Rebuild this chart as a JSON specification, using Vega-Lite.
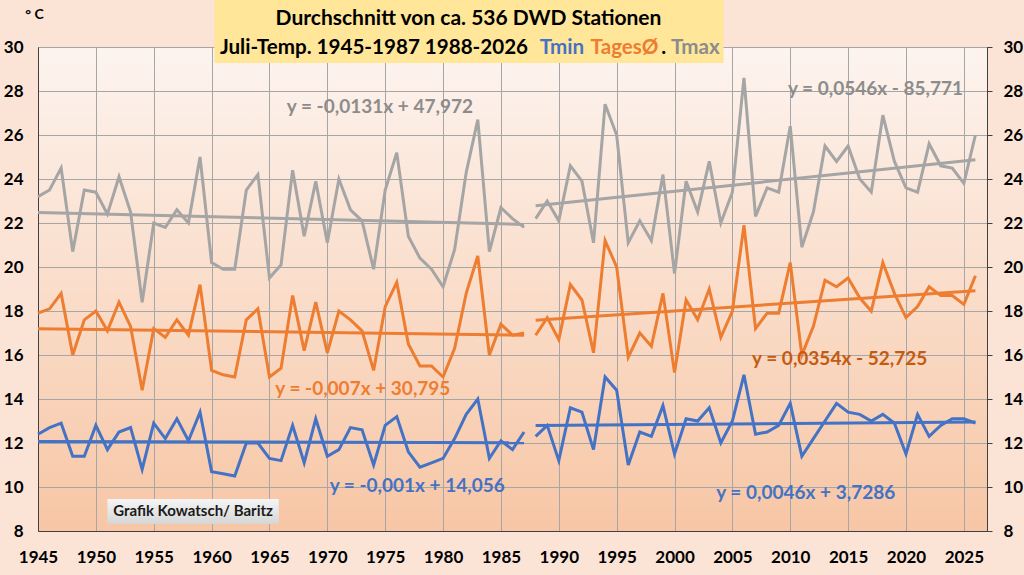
{
  "$schema": "https://vega.github.io/schema/vega-lite/v6.json",
  "width": 949,
  "height": 484,
  "autosize": {"type": "none"},
  "padding": {"left": 38, "top": 47, "right": 37, "bottom": 44},
  "background": "#FBE4D6",
  "config": {
    "font": "Lato",
    "view": {
      "fill": {
        "gradient": "linear", "x1": 0, "y1": 0, "x2": 0, "y2": 1,
        "stops": [{"offset": 0, "color": "#FDF4EF"}, {"offset": 1, "color": "#F7C6A5"}]
      },
      "stroke": "#404040",
      "strokeWidth": 1
    },
    "axis": {
      "labelFont": "Lato",
      "labelFontSize": 17,
      "labelFontWeight": "bold",
      "labelColor": "#000000",
      "domainColor": "#404040",
      "gridColor": "#A6A6A6",
      "gridWidth": 1
    }
  },
  "datasets": {
    "temps": [
      {"year": 1945, "period": "A", "tmin": 12.4, "tages": 17.9, "tmax": 23.2},
      {"year": 1946, "period": "A", "tmin": 12.7, "tages": 18.1, "tmax": 23.5},
      {"year": 1947, "period": "A", "tmin": 12.9, "tages": 18.8, "tmax": 24.5},
      {"year": 1948, "period": "A", "tmin": 11.4, "tages": 16.0, "tmax": 20.7},
      {"year": 1949, "period": "A", "tmin": 11.4, "tages": 17.6, "tmax": 23.5},
      {"year": 1950, "period": "A", "tmin": 12.8, "tages": 18.0, "tmax": 23.4},
      {"year": 1951, "period": "A", "tmin": 11.7, "tages": 17.1, "tmax": 22.4},
      {"year": 1952, "period": "A", "tmin": 12.5, "tages": 18.4, "tmax": 24.1},
      {"year": 1953, "period": "A", "tmin": 12.7, "tages": 17.3, "tmax": 22.5},
      {"year": 1954, "period": "A", "tmin": 10.8, "tages": 14.4, "tmax": 18.4},
      {"year": 1955, "period": "A", "tmin": 12.9, "tages": 17.2, "tmax": 22.0},
      {"year": 1956, "period": "A", "tmin": 12.2, "tages": 16.8, "tmax": 21.8},
      {"year": 1957, "period": "A", "tmin": 13.1, "tages": 17.6, "tmax": 22.6},
      {"year": 1958, "period": "A", "tmin": 12.1, "tages": 16.9, "tmax": 22.0},
      {"year": 1959, "period": "A", "tmin": 13.4, "tages": 19.2, "tmax": 25.0},
      {"year": 1960, "period": "A", "tmin": 10.7, "tages": 15.3, "tmax": 20.2},
      {"year": 1961, "period": "A", "tmin": 10.6, "tages": 15.1, "tmax": 19.9},
      {"year": 1962, "period": "A", "tmin": 10.5, "tages": 15.0, "tmax": 19.9},
      {"year": 1963, "period": "A", "tmin": 12.0, "tages": 17.6, "tmax": 23.5},
      {"year": 1964, "period": "A", "tmin": 12.0, "tages": 18.1, "tmax": 24.2},
      {"year": 1965, "period": "A", "tmin": 11.3, "tages": 15.0, "tmax": 19.5},
      {"year": 1966, "period": "A", "tmin": 11.2, "tages": 15.4, "tmax": 20.1},
      {"year": 1967, "period": "A", "tmin": 12.8, "tages": 18.7, "tmax": 24.4},
      {"year": 1968, "period": "A", "tmin": 11.1, "tages": 16.2, "tmax": 21.4},
      {"year": 1969, "period": "A", "tmin": 13.1, "tages": 18.4, "tmax": 23.9},
      {"year": 1970, "period": "A", "tmin": 11.4, "tages": 16.1, "tmax": 21.1},
      {"year": 1971, "period": "A", "tmin": 11.7, "tages": 18.0, "tmax": 24.0},
      {"year": 1972, "period": "A", "tmin": 12.7, "tages": 17.6, "tmax": 22.6},
      {"year": 1973, "period": "A", "tmin": 12.6, "tages": 17.1, "tmax": 22.1},
      {"year": 1974, "period": "A", "tmin": 11.0, "tages": 15.3, "tmax": 19.9},
      {"year": 1975, "period": "A", "tmin": 12.8, "tages": 18.2, "tmax": 23.5},
      {"year": 1976, "period": "A", "tmin": 13.2, "tages": 19.3, "tmax": 25.2},
      {"year": 1977, "period": "A", "tmin": 11.6, "tages": 16.5, "tmax": 21.4},
      {"year": 1978, "period": "A", "tmin": 10.9, "tages": 15.5, "tmax": 20.4},
      {"year": 1979, "period": "A", "tmin": 11.1, "tages": 15.5, "tmax": 19.9},
      {"year": 1980, "period": "A", "tmin": 11.3, "tages": 15.0, "tmax": 19.1},
      {"year": 1981, "period": "A", "tmin": 12.2, "tages": 16.3, "tmax": 20.8},
      {"year": 1982, "period": "A", "tmin": 13.3, "tages": 18.8, "tmax": 24.3},
      {"year": 1983, "period": "A", "tmin": 14.0, "tages": 20.5, "tmax": 26.7},
      {"year": 1984, "period": "A", "tmin": 11.3, "tages": 16.0, "tmax": 20.7},
      {"year": 1985, "period": "A", "tmin": 12.1, "tages": 17.4, "tmax": 22.7},
      {"year": 1986, "period": "A", "tmin": 11.7, "tages": 16.9, "tmax": 22.2},
      {"year": 1987, "period": "A", "tmin": 12.5, "tages": 17.0, "tmax": 21.8},
      {"year": 1988, "period": "B", "tmin": 12.3, "tages": 16.9, "tmax": 22.2},
      {"year": 1989, "period": "B", "tmin": 12.8, "tages": 17.7, "tmax": 23.0},
      {"year": 1990, "period": "B", "tmin": 11.2, "tages": 16.7, "tmax": 22.1},
      {"year": 1991, "period": "B", "tmin": 13.6, "tages": 19.2, "tmax": 24.6},
      {"year": 1992, "period": "B", "tmin": 13.4, "tages": 18.5, "tmax": 23.9},
      {"year": 1993, "period": "B", "tmin": 11.7, "tages": 16.1, "tmax": 21.1},
      {"year": 1994, "period": "B", "tmin": 15.0, "tages": 21.2, "tmax": 27.4},
      {"year": 1995, "period": "B", "tmin": 14.4, "tages": 20.0, "tmax": 26.0},
      {"year": 1996, "period": "B", "tmin": 11.0, "tages": 15.9, "tmax": 21.1},
      {"year": 1997, "period": "B", "tmin": 12.5, "tages": 17.0, "tmax": 22.1},
      {"year": 1998, "period": "B", "tmin": 12.3, "tages": 16.4, "tmax": 21.2},
      {"year": 1999, "period": "B", "tmin": 13.7, "tages": 18.8, "tmax": 24.2},
      {"year": 2000, "period": "B", "tmin": 11.5, "tages": 15.2, "tmax": 19.7},
      {"year": 2001, "period": "B", "tmin": 13.1, "tages": 18.5, "tmax": 23.9},
      {"year": 2002, "period": "B", "tmin": 13.0, "tages": 17.6, "tmax": 22.5},
      {"year": 2003, "period": "B", "tmin": 13.6, "tages": 19.0, "tmax": 24.8},
      {"year": 2004, "period": "B", "tmin": 12.0, "tages": 16.8, "tmax": 22.0},
      {"year": 2005, "period": "B", "tmin": 13.0, "tages": 18.0, "tmax": 23.4},
      {"year": 2006, "period": "B", "tmin": 15.1, "tages": 21.9, "tmax": 28.6},
      {"year": 2007, "period": "B", "tmin": 12.4, "tages": 17.2, "tmax": 22.3},
      {"year": 2008, "period": "B", "tmin": 12.5, "tages": 17.9, "tmax": 23.6},
      {"year": 2009, "period": "B", "tmin": 12.8, "tages": 17.9, "tmax": 23.4},
      {"year": 2010, "period": "B", "tmin": 13.8, "tages": 20.2, "tmax": 26.4},
      {"year": 2011, "period": "B", "tmin": 11.4, "tages": 16.0, "tmax": 20.9},
      {"year": 2012, "period": "B", "tmin": 12.2, "tages": 17.3, "tmax": 22.5},
      {"year": 2013, "period": "B", "tmin": 13.0, "tages": 19.4, "tmax": 25.5},
      {"year": 2014, "period": "B", "tmin": 13.8, "tages": 19.1, "tmax": 24.8},
      {"year": 2015, "period": "B", "tmin": 13.4, "tages": 19.5, "tmax": 25.5},
      {"year": 2016, "period": "B", "tmin": 13.3, "tages": 18.6, "tmax": 24.0},
      {"year": 2017, "period": "B", "tmin": 13.0, "tages": 18.0, "tmax": 23.4},
      {"year": 2018, "period": "B", "tmin": 13.3, "tages": 20.2, "tmax": 26.9},
      {"year": 2019, "period": "B", "tmin": 12.9, "tages": 18.8, "tmax": 24.8},
      {"year": 2020, "period": "B", "tmin": 11.5, "tages": 17.7, "tmax": 23.6},
      {"year": 2021, "period": "B", "tmin": 13.3, "tages": 18.2, "tmax": 23.4},
      {"year": 2022, "period": "B", "tmin": 12.3, "tages": 19.1, "tmax": 25.6},
      {"year": 2023, "period": "B", "tmin": 12.8, "tages": 18.7, "tmax": 24.6},
      {"year": 2024, "period": "B", "tmin": 13.1, "tages": 18.7, "tmax": 24.5},
      {"year": 2025, "period": "B", "tmin": 13.1, "tages": 18.3, "tmax": 23.8},
      {"year": 2026, "period": "B", "tmin": 12.9, "tages": 19.6, "tmax": 26.0}
    ],
    "equations": [
      {"key": "tmax1", "year": 1966.5, "value": 27.27, "label": "y = -0,0131x + 47,972"},
      {"key": "tmax2", "year": 2009.8, "value": 28.09, "label": "y = 0,0546x - 85,771"},
      {"key": "tages1", "year": 1965.5, "value": 14.45, "label": "y = -0,007x + 30,795"},
      {"key": "tages2", "year": 2006.7, "value": 15.82, "label": "y = 0,0354x - 52,725"},
      {"key": "tmin1", "year": 1970.2, "value": 10.05, "label": "y = -0,001x + 14,056"},
      {"key": "tmin2", "year": 2003.6, "value": 9.73, "label": "y = 0,0046x + 3,7286"}
    ],
    "titlebox": [{"x1": 1960.24, "x2": 2004.24, "y1": 32.3, "y2": 29.27}],
    "title1": [{"year": 1982.2, "value": 31.27, "label": "Durchschnitt von ca. 536 DWD Stationen"}],
    "title2": [
      {"part": "a", "year": 1960.72, "value": 29.97, "label": "Juli-Temp. 1945-1987 1988-2026"},
      {"part": "b", "year": 1988.35, "value": 29.97, "label": "Tmin"},
      {"part": "c", "year": 1992.75, "value": 29.97, "label": "TagesØ"},
      {"part": "d", "year": 1998.85, "value": 29.97, "label": "."},
      {"part": "e", "year": 1999.7, "value": 29.97, "label": "Tmax"}
    ],
    "notebox": [{"x1": 1951.0, "x2": 1965.8, "y1": 9.45, "y2": 8.32}],
    "note": [{"year": 1958.4, "value": 8.89, "label": "Grafik Kowatsch/ Baritz"}]
  },
  "layer": [
    {
      "data": {"name": "temps"},
      "transform": [{"fold": ["tmin", "tages", "tmax"], "as": ["series", "value"]}],
      "mark": {"type": "line", "strokeWidth": 3},
      "encoding": {
        "x": {
          "field": "year", "type": "quantitative",
          "scale": {"domain": [1945, 2027], "nice": false, "zero": false},
          "axis": {
            "values": [1945, 1950, 1955, 1960, 1965, 1970, 1975, 1980, 1985, 1990, 1995, 2000, 2005, 2010, 2015, 2020, 2025],
            "format": "d", "title": null, "grid": true, "ticks": false, "tickSize": 0,
            "labelPadding": 18, "labelFlush": false
          }
        },
        "y": {
          "field": "value", "type": "quantitative",
          "scale": {"domain": [8, 30], "nice": false, "zero": false},
          "axis": {
            "orient": "left",
            "values": [8, 10, 12, 14, 16, 18, 20, 22, 24, 26, 28, 30],
            "grid": true, "ticks": false, "tickSize": 0, "labelPadding": 15,
            "title": "° C", "titleAngle": 0, "titleX": -4, "titleY": -33,
            "titleAlign": "center", "titleBaseline": "middle",
            "titleFont": "Lato", "titleFontSize": 14, "titleFontWeight": "bold", "titleColor": "#000000"
          }
        },
        "color": {
          "field": "series", "type": "nominal",
          "scale": {"domain": ["tmin", "tages", "tmax"], "range": ["#4472C4", "#ED7D31", "#A5A5A5"]},
          "legend": null
        },
        "detail": {"field": "period"}
      }
    },
    {
      "data": {"name": "temps"},
      "transform": [
        {"fold": ["tmin", "tages", "tmax"], "as": ["series", "value"]},
        {"regression": "value", "on": "year", "groupby": ["series", "period"]}
      ],
      "mark": {"type": "line", "strokeWidth": 3},
      "encoding": {
        "x": {"field": "year", "type": "quantitative", "scale": {"domain": [1945, 2027], "nice": false, "zero": false}},
        "y": {
          "field": "value", "type": "quantitative",
          "scale": {"domain": [8, 30], "nice": false, "zero": false},
          "axis": {
            "orient": "right",
            "values": [8, 10, 12, 14, 16, 18, 20, 22, 24, 26, 28, 30],
            "grid": false, "ticks": true, "tickSize": 5, "tickColor": "#404040",
            "labelPadding": 11, "title": null
          }
        },
        "color": {
          "field": "series", "type": "nominal",
          "scale": {"domain": ["tmin", "tages", "tmax"], "range": ["#4472C4", "#ED7D31", "#A5A5A5"]},
          "legend": null
        },
        "detail": {"field": "period"}
      }
    },
    {
      "data": {"name": "equations"},
      "mark": {"type": "text", "align": "left", "baseline": "middle", "fontSize": 19, "fontWeight": "bold", "font": "Lato"},
      "encoding": {
        "x": {"field": "year", "type": "quantitative", "scale": {"domain": [1945, 2027], "nice": false, "zero": false}},
        "y": {"field": "value", "type": "quantitative", "scale": {"domain": [8, 30], "nice": false, "zero": false}, "axis": null},
        "text": {"field": "label"},
        "color": {
          "field": "key", "type": "nominal",
          "scale": {
            "domain": ["tmax1", "tmax2", "tages1", "tages2", "tmin1", "tmin2"],
            "range": ["#8C8C8C", "#8C8C8C", "#ED7D31", "#C55A11", "#4472C4", "#4472C4"]
          },
          "legend": null
        }
      }
    },
    {
      "data": {"name": "titlebox"},
      "mark": {"type": "rect", "fill": "#FFE699"},
      "encoding": {
        "x": {"field": "x1", "type": "quantitative", "scale": {"domain": [1945, 2027], "nice": false, "zero": false}},
        "x2": {"field": "x2"},
        "y": {"field": "y1", "type": "quantitative", "scale": {"domain": [8, 30], "nice": false, "zero": false}, "axis": null},
        "y2": {"field": "y2"}
      }
    },
    {
      "data": {"name": "title1"},
      "mark": {"type": "text", "align": "center", "baseline": "middle", "fontSize": 21, "fontWeight": "bold", "font": "Lato", "color": "#000000"},
      "encoding": {
        "x": {"field": "year", "type": "quantitative", "scale": {"domain": [1945, 2027], "nice": false, "zero": false}},
        "y": {"field": "value", "type": "quantitative", "scale": {"domain": [8, 30], "nice": false, "zero": false}, "axis": null},
        "text": {"field": "label"}
      }
    },
    {
      "data": {"name": "title2"},
      "mark": {"type": "text", "align": "left", "baseline": "middle", "fontSize": 20.6, "fontWeight": "bold", "font": "Lato"},
      "encoding": {
        "x": {"field": "year", "type": "quantitative", "scale": {"domain": [1945, 2027], "nice": false, "zero": false}},
        "y": {"field": "value", "type": "quantitative", "scale": {"domain": [8, 30], "nice": false, "zero": false}, "axis": null},
        "text": {"field": "label"},
        "color": {
          "field": "part", "type": "nominal",
          "scale": {"domain": ["a", "b", "c", "d", "e"], "range": ["#000000", "#4472C4", "#ED7D31", "#000000", "#8C8C8C"]},
          "legend": null
        }
      }
    },
    {
      "data": {"name": "notebox"},
      "mark": {
        "type": "rect",
        "fill": {
          "gradient": "linear", "x1": 0, "y1": 0, "x2": 0, "y2": 1,
          "stops": [{"offset": 0, "color": "#F5F5F5"}, {"offset": 1, "color": "#D6D6D6"}]
        }
      },
      "encoding": {
        "x": {"field": "x1", "type": "quantitative", "scale": {"domain": [1945, 2027], "nice": false, "zero": false}},
        "x2": {"field": "x2"},
        "y": {"field": "y1", "type": "quantitative", "scale": {"domain": [8, 30], "nice": false, "zero": false}, "axis": null},
        "y2": {"field": "y2"}
      }
    },
    {
      "data": {"name": "note"},
      "mark": {"type": "text", "align": "center", "baseline": "middle", "fontSize": 15, "fontWeight": "bold", "font": "Lato", "color": "#1A1A1A"},
      "encoding": {
        "x": {"field": "year", "type": "quantitative", "scale": {"domain": [1945, 2027], "nice": false, "zero": false}},
        "y": {"field": "value", "type": "quantitative", "scale": {"domain": [8, 30], "nice": false, "zero": false}, "axis": null},
        "text": {"field": "label"}
      }
    }
  ],
  "resolve": {"scale": {"color": "independent"}, "axis": {"y": "independent"}}
}
